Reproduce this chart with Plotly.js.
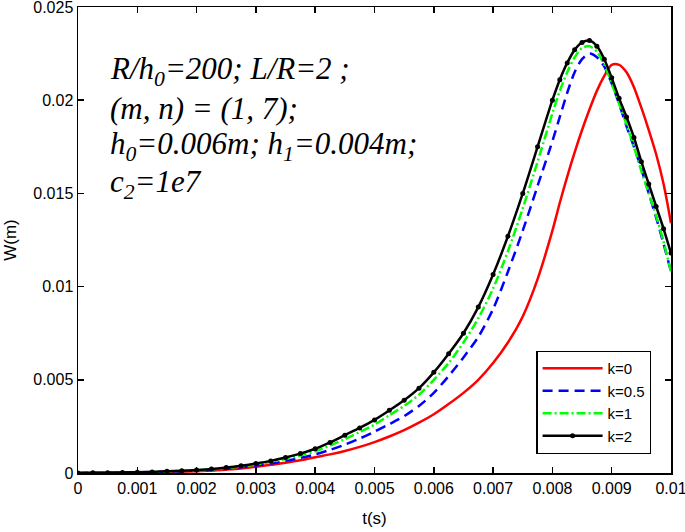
<!DOCTYPE html>
<html>
<head>
<meta charset="utf-8">
<script src="https://cdn.plot.ly/plotly-3.0.1.min.js"></script>
<style>html,body{margin:0;padding:0;background:#fff;}#chart{width:685px;height:532px;}</style>
</head>
<body>
<div id="chart"></div>
<script>
// time samples (s)
const tValues = [0,0.00025,0.0005,0.00075,0.001,0.00125,0.0015,0.00175,0.002,0.00225,0.0025,0.00275,0.003,0.00325,0.0035,0.00375,0.004,0.00425,0.0045,0.00475,0.005,0.00525,0.0055,0.00575,0.006,0.00625,0.0065,0.00675,0.007,0.00725,0.0075,0.00775,0.008,0.008125,0.00825,0.008375,0.0085,0.008625,0.00875,0.008875,0.009,0.009125,0.00925,0.009375,0.0095,0.009625,0.00975,0.009875,0.01];

// W (m) for each k
const wK0 = [0,0,0.00001,0.00001,0.00002,0.00003,0.00005,0.00007,0.0001,0.00013,0.00018,0.00024,0.00033,0.00044,0.00055,0.00068,0.00085,0.001,0.00118,0.0014,0.00166,0.00196,0.0023,0.0027,0.00315,0.0037,0.0043,0.005,0.0059,0.007,0.0084,0.0104,0.013,0.0145,0.0159,0.0172,0.0184,0.0195,0.0205,0.0213,0.0219,0.0219,0.0215,0.0207,0.0196,0.0184,0.0171,0.0155,0.0134];
const wK05 = [0,0.00001,0.00001,0.00002,0.00003,0.00005,0.00007,0.0001,0.00013,0.00017,0.00023,0.00031,0.0004,0.00051,0.00065,0.00081,0.001,0.00124,0.00152,0.00185,0.00222,0.00262,0.00305,0.0036,0.0043,0.0052,0.0062,0.0073,0.0088,0.0108,0.013,0.0154,0.0178,0.0191,0.0204,0.0215,0.0222,0.0225,0.0223,0.0218,0.0209,0.0198,0.0186,0.0175,0.0163,0.015,0.0137,0.0123,0.0108];
const wK1 = [0,0.00001,0.00002,0.00003,0.00004,0.00005,0.00008,0.00011,0.00014,0.00019,0.00026,0.00035,0.00046,0.00059,0.00075,0.00094,0.00117,0.00147,0.00182,0.0022,0.0026,0.0031,0.0036,0.0042,0.005,0.0059,0.007,0.0083,0.0099,0.0119,0.0142,0.0167,0.0193,0.0205,0.0215,0.0223,0.0228,0.0229,0.0226,0.0219,0.0209,0.0198,0.0187,0.0175,0.0162,0.015,0.0138,0.0124,0.0108];
const wK2 = [0,0.00001,0.00002,0.00003,0.00004,0.00006,0.00009,0.00012,0.00016,0.00021,0.00029,0.00039,0.00051,0.00065,0.00083,0.00104,0.0013,0.00164,0.00203,0.00242,0.00285,0.00336,0.0039,0.00455,0.0054,0.0064,0.0075,0.0089,0.01065,0.0127,0.015,0.0175,0.02,0.0211,0.022,0.0227,0.0231,0.0232,0.0229,0.0222,0.0212,0.0201,0.0191,0.018,0.0167,0.0155,0.0143,0.0131,0.0118];

const seriesNames = ['k=0','k=0.5','k=1','k=2'];
const xTickVals = [0,0.001,0.002,0.003,0.004,0.005,0.006,0.007,0.008,0.009,0.01];
const xTickText = ['0','0.001','0.002','0.003','0.004','0.005','0.006','0.007','0.008','0.009','0.01'];
const yTickVals = [0,0.005,0.01,0.015,0.02,0.025];
const yTickText = ['0','0.005','0.01','0.015','0.02','0.025'];
const noteLines = ['R/h<sub>0</sub>=200; L/R=2 ;','(m, n) = (1, 7);','h<sub>0</sub>=0.006m; h<sub>1</sub>=0.004m;','c<sub>2</sub>=1e7'];

const traces = [
  {x:tValues, y:wK0, name:seriesNames[0], mode:'lines', line:{color:'#ff0000', width:2.5, shape:'spline', smoothing:0.8}},
  {x:tValues, y:wK05, name:seriesNames[1], mode:'lines', line:{color:'#0000ff', width:2.5, dash:'10px,6px', shape:'spline', smoothing:0.8}},
  {x:tValues, y:wK1, name:seriesNames[2], mode:'lines', line:{color:'#00ff00', width:2.5, dash:'9px,3px,2px,3px', shape:'spline', smoothing:0.8}},
  {x:tValues, y:wK2, name:seriesNames[3], mode:'lines+markers', line:{color:'#000000', width:2.5, shape:'spline', smoothing:0.8}, marker:{color:'#000', size:5, symbol:'circle'}}
];

const noteY = [0.863, 0.782, 0.702, 0.621];
const annotations = noteLines.map((s,i)=>({
  text:s, xref:'paper', yref:'paper', x:0.05, y:noteY[i], xanchor:'left', yanchor:'middle',
  showarrow:false, font:{family:'Liberation Serif, Times New Roman, serif', size:31, color:'#000', style:'italic'}
}));

const axisCommon = {showgrid:false, zeroline:false, showline:true, linecolor:'#000', linewidth:1.5,
  mirror:'allticks', ticks:'inside', ticklen:6, tickcolor:'#000', tickwidth:1.5, ticklabeloverflow:'allow',
  tickfont:{family:'Liberation Sans, Arial, sans-serif', size:16, color:'#000'}};

const layout = {
  width:685, height:532,
  margin:{l:78, r:14, t:7, b:59},
  paper_bgcolor:'#fff', plot_bgcolor:'#fff',
  showlegend:true,
  xaxis:Object.assign({}, axisCommon, {range:[0,0.01], tickvals:xTickVals, ticktext:xTickText,
    title:{text:'t(s)', font:{family:'Liberation Sans, Arial, sans-serif', size:17, color:'#000'}, standoff:16}}),
  yaxis:Object.assign({}, axisCommon, {range:[0,0.025], tickvals:yTickVals, ticktext:yTickText,
    title:{text:'W(m)', font:{family:'Liberation Sans, Arial, sans-serif', size:17, color:'#000'}, standoff:12}}),
  legend:{x:0.773, y:0.262, xanchor:'left', yanchor:'top', bgcolor:'#fff', bordercolor:'#000', borderwidth:1.2,
    font:{family:'Liberation Sans, Arial, sans-serif', size:15, color:'#000'}, itemwidth:60, tracegroupgap:0},
  annotations:annotations
};

Plotly.newPlot('chart', traces, layout, {displayModeBar:false, staticPlot:true});
</script>
</body>
</html>
